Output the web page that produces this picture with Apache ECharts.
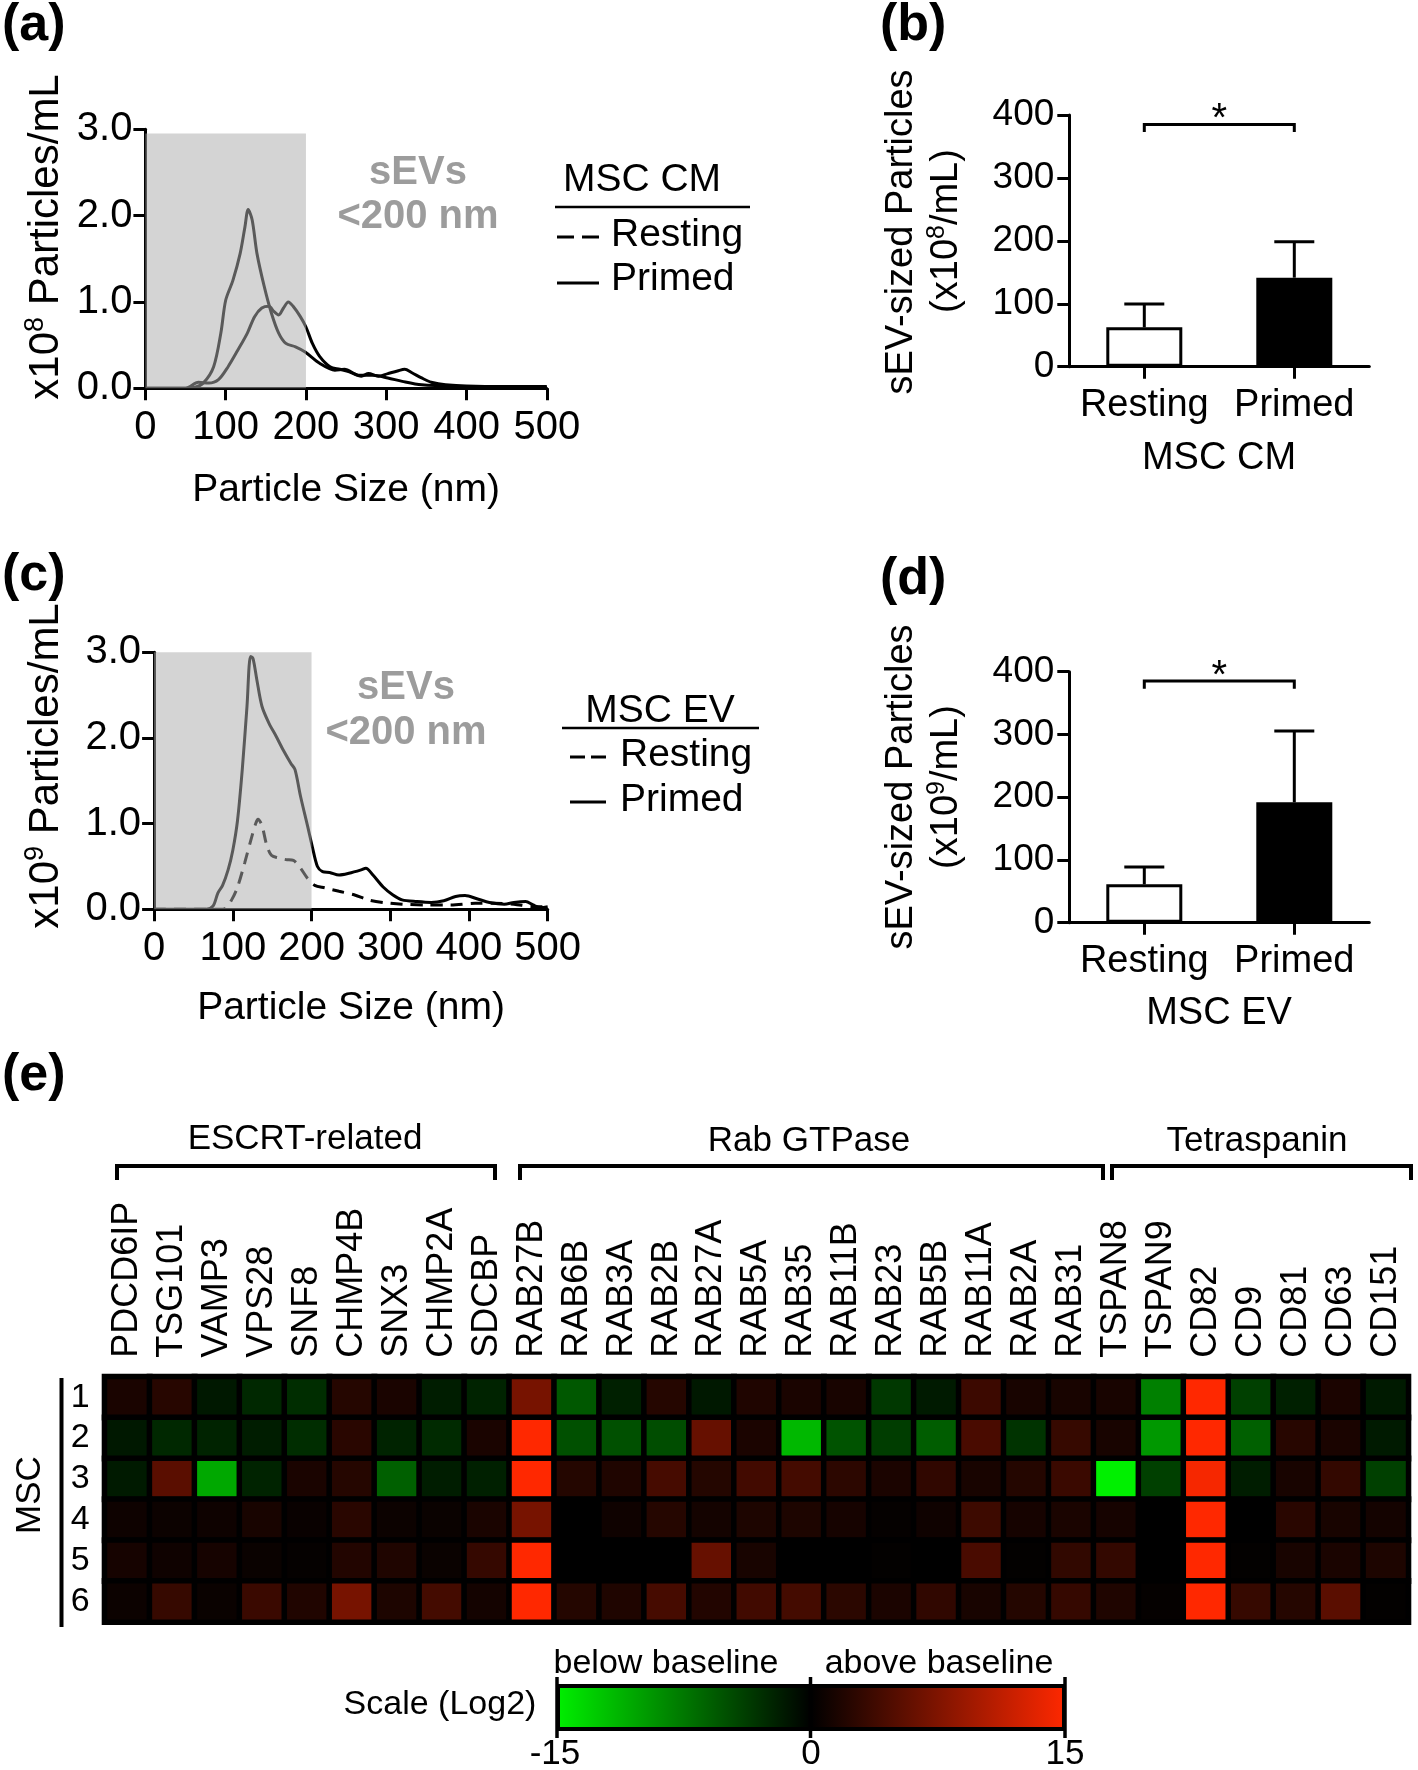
<!DOCTYPE html>
<html><head><meta charset="utf-8">
<script src="https://cdn.jsdelivr.net/npm/echarts@6/dist/echarts.min.js"></script>
<style>html,body{margin:0;padding:0;background:#fff}#c{width:1418px;height:1770px}</style>
</head><body><div id="c"></div>
<script>
const FONT = '"Liberation Sans", Arial, Helvetica, sans-serif';

// (a) MSC CM size distribution, x10^8 particles/mL
const aPrimedSize = [0,40,60,72,85,94,100,109,118,124,128,133,139,148,157,166,175,187,199,217,236,248,266,284,302,320,344,392,450,500];
const aPrimed     = [0,0,0.01,0.06,0.25,0.64,1.02,1.25,1.56,1.87,2.07,1.95,1.56,1.18,0.87,0.64,0.52,0.48,0.42,0.29,0.21,0.22,0.15,0.15,0.12,0.08,0.04,0.02,0.01,0.01];
const aRestingSize = [0,50,66,79,91,103,115,127,136,145,154,160,166,172,178,184,193,200,208,217,230,242,254,269,278,290,302,314,323,332,344,356,374,423,500];
const aResting     = [0,0,0.07,0.06,0.1,0.25,0.44,0.64,0.83,0.93,0.95,0.89,0.85,0.93,1.0,0.95,0.83,0.71,0.52,0.37,0.25,0.22,0.19,0.14,0.17,0.14,0.17,0.2,0.22,0.18,0.12,0.07,0.04,0.02,0.02];

// (c) MSC EV size distribution, x10^9 particles/mL
const cPrimedSize = [0,66,75,81,87,94,100,106,112,118,122.5,125.6,130.5,137,146,155,164,174,179,186,195,201,207.5,214,223,235,247.5,263,269,278,291,303,315,334,352,368,383,395,411,426,445,457,472,481.5,491,500];
const cPrimed     = [0,0,0.04,0.19,0.28,0.46,0.69,1.04,1.63,2.37,2.95,2.93,2.68,2.37,2.17,2.02,1.86,1.70,1.63,1.32,0.97,0.73,0.5,0.44,0.43,0.4,0.42,0.46,0.48,0.4,0.26,0.17,0.11,0.09,0.08,0.1,0.15,0.16,0.12,0.08,0.06,0.08,0.09,0.05,0.02,0.03];
const cRestingSize = [0,84,90.5,98.5,106,115,123,129,132,137,143,149,158,167.5,177,186,195,204,217,235,254,272,291,315,346,377,408,432,457,481.5,500];
const cResting     = [0,0,0.01,0.11,0.26,0.54,0.81,1.0,1.05,0.98,0.75,0.63,0.6,0.58,0.57,0.48,0.36,0.28,0.25,0.21,0.17,0.11,0.08,0.06,0.05,0.05,0.07,0.07,0.06,0.03,0.03];
const sevLimit = 200;

// (b)/(d) sEV-sized particles
const barCats = ['Resting', 'Primed'];
const cmMean = [62.5, 141.5];
const cmSD   = [37.1, 57.2];
const evMean = [61.1, 191.8];
const evSD   = [27.6, 113.6];
const sigTop = 385, sigEnd = 373;

// (e) heatmap, Log2 scale
const genes = ['PDCD6IP','TSG101','VAMP3','VPS28','SNF8','CHMP4B','SNX3','CHMP2A','SDCBP',
  'RAB27B','RAB6B','RAB3A','RAB2B','RAB27A','RAB5A','RAB35','RAB11B','RAB23','RAB5B','RAB11A','RAB2A','RAB31',
  'TSPAN8','TSPAN9','CD82','CD9','CD81','CD63','CD151'];
const mscRows = ['1','2','3','4','5','6'];
const msc1 = [1.5,2.3,-1.5,-2.5,-2.8,2.2,1.5,-1.8,-2.2,7,-5.5,-2,2.2,-1.5,1.8,1.5,1.4,-3.5,-1.6,3.5,1.4,1.4,1.4,-8,15,-4,-2,1.6,-1.6];
const msc2 = [-1.5,-2.5,-2.2,-1.8,-2.8,2.4,-2.2,-2.6,1.5,15,-5,-5,-4.8,6,1.6,-11.5,-5.2,-3.8,-5.8,4.3,-3.2,3.2,1.4,-9.5,15,-6,2.3,1.5,-1.6];
const msc3 = [-1.6,5.3,-10.5,-2.2,1.5,2.2,-6,-1.8,-2,15,2.1,1.8,4.1,2.1,3.9,4,2.6,1.6,2.8,1.4,2.1,3.4,-15,-4,14.5,-1.8,1.4,3,-4];
const msc4 = [0.8,0.7,0.8,1.4,0.5,2.4,0.7,0.6,1.5,7,0,0.9,2.2,1.2,1.7,1.7,1.3,0.3,0.9,3.6,1.3,1.5,1.3,0,15,0,2.4,1.4,1.2];
const msc5 = [1.3,0.9,1.3,0.6,0.3,2,1.8,0.6,3.1,15,0,0,0,6,1.4,0,0,0.2,0,4.3,0.2,2.9,3,0,15,0.2,1.4,1.5,1.7];
const msc6 = [0.7,3.2,0.6,3.4,1.9,7,1.7,4,1.2,15,2.1,1.8,4.1,2,3.8,4,2.5,1.6,2.8,1.4,2.1,3.1,1.8,0.3,15,3.2,2.2,5.3,0.2];
const scaleMin = -15, scaleMax = 15;

// ---------- build ----------
const pairs = (xs, ys) => xs.map((x, i) => [x, ys[i]]);
const heatRows = [msc1, msc2, msc3, msc4, msc5, msc6];
const heatData = [];
heatRows.forEach((row, r) => row.forEach((v, c) => heatData.push([c, r, v])));

const AX = { lineStyle: { color: '#000', width: 3 } };
const TICK = { show: true, length: 12, lineStyle: { color: '#000', width: 3 } };
const LBL = (size, margin, extra) => Object.assign({ color: '#000', fontSize: size, fontFamily: FONT, margin }, extra || {});

function distX(grid) {
  return { type: 'value', gridIndex: grid, min: 0, max: 500, interval: 100, axisLine: AX, axisTick: TICK,
    splitLine: { show: false }, axisLabel: LBL(40, 20) };
}
function distY(grid) {
  return { type: 'value', gridIndex: grid, min: 0, max: 3, interval: 1, axisLine: Object.assign({ show: true }, AX), axisTick: TICK,
    splitLine: { show: false }, axisLabel: LBL(40, 13, { formatter: v => v.toFixed(1) }) };
}
function barX(grid) {
  return { type: 'category', gridIndex: grid, data: barCats, boundaryGap: true, axisLine: AX,
    axisTick: Object.assign({ alignWithLabel: true }, TICK), axisLabel: LBL(38, 20, { interval: 0 }) };
}
function barY(grid) {
  return { type: 'value', gridIndex: grid, min: 0, max: 400, interval: 100, axisLine: Object.assign({ show: true }, AX), axisTick: TICK,
    splitLine: { show: false }, axisLabel: LBL(37, 15) };
}
function curve(name, xi, xs, ys, dashed) {
  return { name, type: 'line', xAxisIndex: xi, yAxisIndex: xi, data: pairs(xs, ys), smooth: 0.3, symbol: 'none', z: 3,
    lineStyle: { color: '#000', width: 3, type: dashed ? [12, 8] : 'solid' } };
}
// translucent grey band over the sEV (<200 nm) region, drawn above the curves
function overlay(xi, top) {
  return { type: 'custom', xAxisIndex: xi, yAxisIndex: xi, z: 10, silent: true, clip: false,
    data: [[0, sevLimit, top]],
    renderItem(params, api) {
      const p0 = api.coord([api.value(0), api.value(2)]);
      const p1 = api.coord([api.value(1), 0]);
      return { type: 'rect', shape: { x: p0[0], y: p0[1], width: p1[0] - p0[0], height: p1[1] - p0[1] },
        style: { fill: 'rgba(173,173,173,0.52)' } };
    } };
}
function bars(xi, means) {
  return { type: 'bar', xAxisIndex: xi, yAxisIndex: xi, barWidth: 76, z: 3,
    data: means.map((m, i) => ({ value: m, itemStyle: { color: i === 0 ? '#fff' : '#000', borderColor: '#000', borderWidth: 3 } })) };
}
function errBars(xi, means, sds) {
  return { type: 'custom', xAxisIndex: xi, yAxisIndex: xi, z: 4, silent: true,
    data: means.map((m, i) => [i, m, sds[i]]),
    renderItem(params, api) {
      const x = api.value(0), m = api.value(1), sd = api.value(2);
      const p0 = api.coord([x, m]), p1 = api.coord([x, m + sd]);
      const cap = 20, st = { stroke: '#000', lineWidth: 3 };
      return { type: 'group', children: [
        { type: 'line', shape: { x1: p0[0], y1: p0[1], x2: p1[0], y2: p1[1] }, style: st },
        { type: 'line', shape: { x1: p1[0] - cap, y1: p1[1], x2: p1[0] + cap, y2: p1[1] }, style: st }
      ] };
    } };
}
function sigBracket(xi) {
  return { type: 'custom', xAxisIndex: xi, yAxisIndex: xi, z: 4, silent: true,
    data: [[0, 1, sigTop, sigEnd]],
    renderItem(params, api) {
      const a = api.value(0), b = api.value(1), t = api.value(2), e = api.value(3);
      const pa = api.coord([a, e]), pat = api.coord([a, t]), pbt = api.coord([b, t]), pb = api.coord([b, e]);
      return { type: 'group', children: [
        { type: 'polyline', shape: { points: [pa, pat, pbt, pb] }, style: { stroke: '#000', lineWidth: 3, fill: null } },
        { type: 'text', x: (pat[0] + pbt[0]) / 2, y: pat[1] - 4,
          style: { text: '*', fontSize: 40, fontFamily: FONT, fill: '#000', align: 'center', verticalAlign: 'middle', textAlign: 'center', textVerticalAlign: 'middle' } }
      ] };
    } };
}

function txt(x, y, text, size, o) {
  o = o || {};
  const al = o.align || 'center';
  return { type: 'text', x, y, rotation: o.rot || 0, z: 100, silent: true,
    style: Object.assign({ text, fontSize: size, fontFamily: FONT, fontWeight: o.bold ? 'bold' : 'normal', fill: o.color || '#000',
      align: al, verticalAlign: 'middle', textAlign: al, textVerticalAlign: 'middle' }, o.style || {}) };
}
function supTxt(x, y, before, sup, after, size, rot) {
  return txt(x, y, '{a|' + before + '}{s|' + sup + '}{a|' + after + '}', size, { rot, style: { rich: {
    a: { fontSize: size, fontFamily: FONT, fill: '#000', lineHeight: size + 6 },
    s: { fontSize: Math.round(size * 0.65), fontFamily: FONT, fill: '#000', verticalAlign: 'top', lineHeight: size - 6 } } } });
}
function seg(x1, y1, x2, y2, w, dash) {
  return { type: 'line', z: 100, silent: true, shape: { x1, y1, x2, y2 }, style: { stroke: '#000', lineWidth: w, lineDash: dash || null } };
}
function bracket(x1, x2, yTop, yEnd) {
  return { type: 'polyline', z: 100, silent: true, shape: { points: [[x1, yEnd], [x1, yTop], [x2, yTop], [x2, yEnd]] },
    style: { stroke: '#000', lineWidth: 4, fill: null } };
}
const V = Math.PI / 2;
const GRAY = '#9c9c9c';

const graphics = [
  txt(2, 26, '(a)', 52, { bold: true, align: 'left' }),
  txt(880, 26, '(b)', 52, { bold: true, align: 'left' }),
  txt(2, 576, '(c)', 52, { bold: true, align: 'left' }),
  txt(880, 580, '(d)', 52, { bold: true, align: 'left' }),
  txt(2, 1076, '(e)', 52, { bold: true, align: 'left' }),
  // panel a
  supTxt(46, 237, 'x10', '8', ' Particles/mL', 42, V),
  txt(346, 490, 'Particle Size (nm)', 39),
  txt(418, 173, 'sEVs', 40, { bold: true, color: GRAY }),
  txt(418, 217, '<200 nm', 40, { bold: true, color: GRAY }),
  txt(642, 180, 'MSC CM', 39),
  seg(555, 207, 750, 207, 2.5),
  seg(557, 237, 599, 237, 3, [17, 8]),
  txt(611, 235, 'Resting', 39, { align: 'left' }),
  seg(557, 283, 599, 283, 3),
  txt(611, 279, 'Primed', 39, { align: 'left' }),
  // panel c
  supTxt(46, 766, 'x10', '9', ' Particles/mL', 42, V),
  txt(351, 1008, 'Particle Size (nm)', 39),
  txt(406, 688, 'sEVs', 40, { bold: true, color: GRAY }),
  txt(406, 733, '<200 nm', 40, { bold: true, color: GRAY }),
  txt(660, 711, 'MSC EV', 39),
  seg(562, 728, 759, 728, 2.5),
  seg(570, 757, 606, 757, 3, [15, 6]),
  txt(620, 755, 'Resting', 39, { align: 'left' }),
  seg(570, 802, 606, 802, 3),
  txt(620, 800, 'Primed', 39, { align: 'left' }),
  // panel b
  txt(902, 232, 'sEV-sized Particles', 38, { rot: V }),
  supTxt(947, 231, '(x10', '8', '/mL)', 38, V),
  txt(1219, 459, 'MSC CM', 38),
  // panel d
  txt(902, 787, 'sEV-sized Particles', 38, { rot: V }),
  supTxt(947, 787, '(x10', '9', '/mL)', 38, V),
  txt(1219, 1014, 'MSC EV', 38),
  // panel e
  txt(305, 1139, 'ESCRT-related', 35),
  txt(809, 1141, 'Rab GTPase', 35),
  txt(1257, 1141, 'Tetraspanin', 35),
  bracket(117, 495, 1166, 1180),
  bracket(520, 1103, 1166, 1180),
  bracket(1112, 1411, 1166, 1180),
  seg(61.5, 1378, 61.5, 1627, 4),
  txt(30, 1495, 'MSC', 35, { rot: V }),
  // colour scale
  txt(440, 1705, 'Scale (Log2)', 34),
  txt(666, 1664, 'below baseline', 34),
  txt(939, 1664, 'above baseline', 34),
  { type: 'rect', z: 100, silent: true, shape: { x: 558, y: 1686, width: 506, height: 43 },
    style: { stroke: '#000', lineWidth: 4, fill: new echarts.graphic.LinearGradient(0, 0, 1, 0, [
      { offset: 0, color: '#00f000' }, { offset: 0.5, color: '#000000' }, { offset: 1, color: '#ff2800' }]) } },
  seg(557, 1677, 557, 1738, 3.5), seg(810.5, 1677, 810.5, 1738, 3.5), seg(1065, 1677, 1065, 1738, 3.5),
  txt(555, 1754, String(scaleMin), 35),
  txt(811, 1754, '0', 35),
  txt(1065, 1754, String(scaleMax), 35)
];

const option = {
  backgroundColor: '#fff',
  animation: false,
  textStyle: { fontFamily: FONT },
  grid: [
    { left: 145.4, top: 129.3, width: 401.4, height: 259, outerBoundsMode: 'none' },
    { left: 1069.3, top: 115, width: 300, height: 251.7, outerBoundsMode: 'none' },
    { left: 154.1, top: 652.3, width: 393.6, height: 257, outerBoundsMode: 'none' },
    { left: 1069.3, top: 671.7, width: 300, height: 251, outerBoundsMode: 'none' },
    { left: 104.7, top: 1376.7, width: 1303.6, height: 245.3, outerBoundsMode: 'none', show: true,
      backgroundColor: '#000', borderColor: '#8a8a8a', borderWidth: 1 }
  ],
  xAxis: [
    distX(0), barX(1), distX(2), barX(3),
    { type: 'category', gridIndex: 4, data: genes, position: 'top', axisLine: { show: false }, axisTick: { show: false },
      splitLine: { show: false }, axisLabel: LBL(36, 19, { rotate: -90, interval: 0 }) }
  ],
  yAxis: [
    distY(0), barY(1), distY(2), barY(3),
    { type: 'category', gridIndex: 4, data: mscRows, inverse: true, axisLine: { show: false }, axisTick: { show: false },
      splitLine: { show: false }, axisLabel: LBL(34, 15, { interval: 0 }) }
  ],
  visualMap: [{ type: 'continuous', show: false, min: scaleMin, max: scaleMax, seriesIndex: 12,
    inRange: { color: ['#00f000', '#000000', '#ff2800'] } }],
  series: [
    curve('Primed', 0, aPrimedSize, aPrimed, false),
    curve('Resting', 0, aRestingSize, aResting, false),
    overlay(0, 2.95),
    curve('Primed', 2, cPrimedSize, cPrimed, false),
    curve('Resting', 2, cRestingSize, cResting, true),
    overlay(2, 3),
    bars(1, cmMean), errBars(1, cmMean, cmSD), sigBracket(1),
    bars(3, evMean), errBars(3, evMean, evSD), sigBracket(3),
    { type: 'heatmap', xAxisIndex: 4, yAxisIndex: 4, data: heatData,
      itemStyle: { borderColor: '#000', borderWidth: 5.5 }, emphasis: { disabled: true } }
  ],
  graphic: graphics
};
const chart = echarts.init(document.getElementById('c'), null, { renderer: 'canvas' });
chart.setOption(option);
</script></body></html>
